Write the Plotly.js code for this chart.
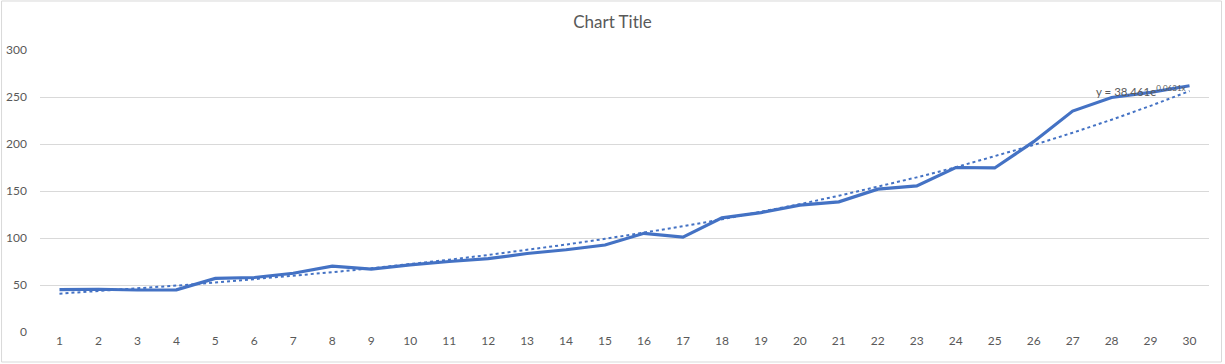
<!DOCTYPE html>
<html>
<head>
<meta charset="utf-8">
<script src="https://cdn.plot.ly/plotly-3.0.1.min.js"></script>
<style>html,body{margin:0;padding:0;background:#fff;}#chart{width:1225px;height:364px;}</style>
</head>
<body>
<div id="chart"></div>
<script>
// Data
const categories = [1,2,3,4,5,6,7,8,9,10,11,12,13,14,15,16,17,18,19,20,21,22,23,24,25,26,27,28,29,30];
const values = [45, 45.5, 44.7, 44.8, 57, 58, 62.5, 70, 67, 71.5, 75, 78, 83.5, 87.5, 92.5, 105, 101, 121.5, 127, 135, 138.5, 152, 155.5, 175, 174.5, 202.5, 235, 249.5, 255, 262];
const yTicks = [0, 50, 100, 150, 200, 250, 300];
const trendLabel = "y = 38.461e<sup>0.0631x</sup>";

// Exponential trendline: least-squares fit of ln(y) on x (as Excel does)
const n = categories.length;
let sx = 0, sy = 0, sxx = 0, sxy = 0;
for (let i = 0; i < n; i++) {
  const x = categories[i], ly = Math.log(values[i]);
  sx += x; sy += ly; sxx += x * x; sxy += x * ly;
}
const b = (n * sxy - sx * sy) / (n * sxx - sx * sx);
const lnA = (sy - b * sx) / n;
const trend = categories.map(x => Math.exp(lnA + b * x));

const blue = '#4472C4';
const grey = '#595959';
const font = 'Lato, "Open Sans", sans-serif';

const traces = [
  {x: categories, y: values, type: 'scatter', mode: 'lines',
   line: {color: blue, width: 3.2}, hoverinfo: 'skip', showlegend: false},
  {x: categories, y: trend, type: 'scatter', mode: 'lines',
   line: {color: blue, width: 2, dash: 'dot'}, hoverinfo: 'skip', showlegend: false}
];

const layout = {
  width: 1225, height: 364,
  margin: {l: 39.5, r: 15.5, t: 50, b: 32},
  paper_bgcolor: '#fff', plot_bgcolor: '#fff',
  title: {text: 'Chart Title', x: 0.5, xref: 'container', xanchor: 'center', y: 1 - 22/364, yanchor: 'middle',
          font: {family: font, size: 17, color: grey}},
  font: {family: font, color: grey},
  xaxis: {range: [0.5, 30.5], tickmode: 'array', tickvals: categories, ticktext: categories.map(String),
          showgrid: false, zeroline: false, showline: false, ticks: '',
          tickfont: {family: font, size: 12, color: grey}, fixedrange: true},
  yaxis: {range: [0, 300], tickmode: 'array', tickvals: yTicks, ticktext: yTicks.map(String),
          showgrid: true, gridcolor: '#D9D9D9', gridwidth: 1, zeroline: false, showline: false, ticks: '',
          ticklabelstandoff: 12,
          tickfont: {family: font, size: 12, color: grey}, fixedrange: true},
  shapes: [
    {type: 'rect', xref: 'paper', yref: 'paper',
     x0: -0.0329, x1: 1.0107, y0: -0.1064, y1: 1.1738,
     line: {color: '#D9D9D9', width: 1}, fillcolor: 'rgba(0,0,0,0)', layer: 'below'}
  ],
  annotations: [
    {xref: 'x', yref: 'y', x: 27.56, y: 257, xanchor: 'left', yanchor: 'middle',
     text: trendLabel, showarrow: false, font: {family: font, size: 11.5, color: grey}}
  ]
};

Plotly.newPlot('chart', traces, layout, {staticPlot: true, displayModeBar: false});
</script>
</body>
</html>
